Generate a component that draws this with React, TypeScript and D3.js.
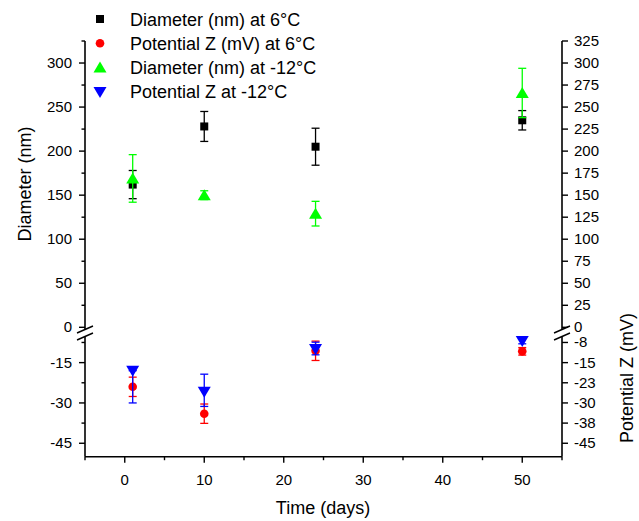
import React from "react";
import * as d3 from "d3";

const width = 639;
const height = 521;
const font = "Arial, 'Liberation Sans', sans-serif";

// sampling days
const days = [1, 10, 24, 50];

// Diameter (nm) at 6°C
const diam6 = [162, 228, 205, 235];
const diam6Err = [16, 17, 21, 11];
// Potential Z (mV) at 6°C
const zeta6 = [-24, -34, -10.6, -10.8];
const zeta6Err = [3.6, 3.6, 3.6, 1.4];
// Diameter (nm) at -12°C
const diam12 = [169, 150, 129, 266];
const diam12Err = [27, 5, 14, 28];
// Potential Z at -12°C
const zeta12 = [-18, -25.8, -9.9, -7];
const zeta12ErrLo = [12, 5.5, 2.2, 1];
const zeta12ErrHi = [0, 6.5, 2.5, 1];

const xTicks = [0, 10, 20, 30, 40, 50];
const leftUpperTicks = [0, 50, 100, 150, 200, 250, 300];
const leftLowerTicks = [-15, -30, -45];
const rightUpperTicks = [0, 25, 50, 75, 100, 125, 150, 175, 200, 225, 250, 275, 300, 325];
const rightLowerTicks = [-7.5, -15, -22.5, -30, -37.5, -45];
const rightLowerLabels = ["-8", "-15", "-23", "-30", "-38", "-45"];

const legendLabels = [
  "Diameter (nm) at 6°C",
  "Potential Z (mV) at 6°C",
  "Diameter (nm) at -12°C",
  "Potential Z at -12°C",
];

const x = d3.scaleLinear().domain([-5, 55]).range([85, 562]);
const yUp = d3.scaleLinear().domain([0, 325]).range([327.3, 41]);
const yLow = d3.scaleLinear().domain([-50, -4.5]).range([456.7, 334.4]);

const left = x.range()[0];
const right = x.range()[1];
const top = yUp.range()[1];
const bottom = yLow.range()[0];
const breakA = 329;
const breakB = 336;

function Marker({ shape, cx, cy, color }) {
  if (shape === "square") return <rect x={cx - 4} y={cy - 4} width={8} height={8} fill={color} />;
  if (shape === "circle") return <circle cx={cx} cy={cy} r={4.3} fill={color} />;
  if (shape === "up")
    return <path d={`M${cx},${cy - 6}L${cx + 6.5},${cy + 5}L${cx - 6.5},${cy + 5}Z`} fill={color} />;
  return <path d={`M${cx - 6.5},${cy - 5}L${cx + 6.5},${cy - 5}L${cx},${cy + 6}Z`} fill={color} />;
}

function ErrBar({ cx, y1, y2, color }) {
  return (
    <g stroke={color} strokeWidth={1.3}>
      <line x1={cx} x2={cx} y1={y1} y2={y2} />
      <line x1={cx - 4} x2={cx + 4} y1={y1} y2={y1} />
      <line x1={cx - 4} x2={cx + 4} y1={y2} y2={y2} />
    </g>
  );
}

const series = [
  { vals: diam6, lo: diam6Err, hi: diam6Err, y: yUp, color: "#000000", shape: "square" },
  { vals: zeta6, lo: zeta6Err, hi: zeta6Err, y: yLow, color: "#ff0000", shape: "circle" },
  { vals: diam12, lo: diam12Err, hi: diam12Err, y: yUp, color: "#00ff00", shape: "up" },
  { vals: zeta12, lo: zeta12ErrLo, hi: zeta12ErrHi, y: yLow, color: "#0000ff", shape: "down" },
];

export default function App() {
  const minorX = d3.range(-5, 56, 5).filter((d) => !xTicks.includes(d));
  const leftUpperMinor = d3.range(25, 326, 50);
  const leftLowerMinor = [-7.5, -22.5, -37.5];

  const breakMarks = (ax) => (
    <g stroke="#000" strokeWidth={1.4}>
      <line x1={ax - 8} y1={breakA + 4} x2={ax + 8} y2={breakA - 3} />
      <line x1={ax - 8} y1={breakB + 4} x2={ax + 8} y2={breakB - 3} />
    </g>
  );

  return (
    <svg
      width={width}
      height={height}
      style={{ position: "absolute", left: 0, top: 0, background: "#fff" }}
      fontFamily={font}
    >
      <rect width={width} height={height} fill="#fff" />

      {/* axes */}
      <g stroke="#000" strokeWidth={1.6} fill="none">
        <line x1={left} x2={left} y1={top} y2={breakA} />
        <line x1={left} x2={left} y1={breakB} y2={bottom} />
        <line x1={right} x2={right} y1={top} y2={breakA} />
        <line x1={right} x2={right} y1={breakB} y2={bottom} />
        <line x1={left} x2={right} y1={bottom} y2={bottom} />
      </g>
      {breakMarks(left)}
      {breakMarks(right)}

      {/* x ticks */}
      <g stroke="#000" strokeWidth={1.4}>
        {xTicks.map((t) => (
          <line key={t} x1={x(t)} x2={x(t)} y1={bottom} y2={bottom + 6} />
        ))}
        {minorX.map((t) => (
          <line key={t} x1={x(t)} x2={x(t)} y1={bottom} y2={bottom + 3.5} />
        ))}
      </g>
      <g fontSize={15} textAnchor="middle">
        {xTicks.map((t) => (
          <text key={t} x={x(t)} y={485}>{t}</text>
        ))}
      </g>
      <text x={323} y={514} fontSize={18} textAnchor="middle">Time (days)</text>

      {/* left axis */}
      <g stroke="#000" strokeWidth={1.4}>
        {leftUpperTicks.map((t) => (
          <line key={t} x1={left - 6} x2={left} y1={yUp(t)} y2={yUp(t)} />
        ))}
        {leftUpperMinor.map((t) => (
          <line key={t} x1={left - 3.5} x2={left} y1={yUp(t)} y2={yUp(t)} />
        ))}
        {leftLowerTicks.map((t) => (
          <line key={t} x1={left - 6} x2={left} y1={yLow(t)} y2={yLow(t)} />
        ))}
        {leftLowerMinor.map((t) => (
          <line key={t} x1={left - 3.5} x2={left} y1={yLow(t)} y2={yLow(t)} />
        ))}
      </g>
      <g fontSize={15} textAnchor="end">
        {leftUpperTicks.map((t) => (
          <text key={t} x={left - 13} y={yUp(t) + 5}>{t}</text>
        ))}
        {leftLowerTicks.map((t) => (
          <text key={t} x={left - 13} y={yLow(t) + 5}>{t}</text>
        ))}
      </g>
      <text transform="translate(31,184) rotate(-90)" fontSize={18} textAnchor="middle">
        Diameter (nm)
      </text>

      {/* right axis */}
      <g stroke="#000" strokeWidth={1.4}>
        {rightUpperTicks.map((t) => (
          <line key={t} x1={right} x2={right + 6} y1={yUp(t)} y2={yUp(t)} />
        ))}
        {rightLowerTicks.map((t) => (
          <line key={t} x1={right} x2={right + 6} y1={yLow(t)} y2={yLow(t)} />
        ))}
      </g>
      <g fontSize={15} textAnchor="start">
        {rightUpperTicks.map((t) => (
          <text key={t} x={right + 12} y={yUp(t) + 5}>{t}</text>
        ))}
        {rightLowerTicks.map((t, i) => (
          <text key={t} x={right + 12} y={yLow(t) + 5}>{rightLowerLabels[i]}</text>
        ))}
      </g>
      <text transform="translate(633,378) rotate(-90)" fontSize={18} textAnchor="middle">
        Potential Z (mV)
      </text>

      {/* data */}
      {series.map((s, si) => (
        <g key={si}>
          {days.map((d, i) => (
            <g key={i}>
              <ErrBar
                cx={x(d)}
                y1={s.y(s.vals[i] + s.hi[i])}
                y2={s.y(s.vals[i] - s.lo[i])}
                color={s.color}
              />
              <Marker shape={s.shape} cx={x(d)} cy={s.y(s.vals[i])} color={s.color} />
            </g>
          ))}
        </g>
      ))}

      {/* legend */}
      {series.map((s, i) => {
        const cy = 19 + i * 24.3;
        return (
          <g key={i}>
            <Marker shape={s.shape} cx={100} cy={cy} color={s.color} />
            <text x={130} y={cy + 6.5} fontSize={18}>{legendLabels[i]}</text>
          </g>
        );
      })}
    </svg>
  );
}
